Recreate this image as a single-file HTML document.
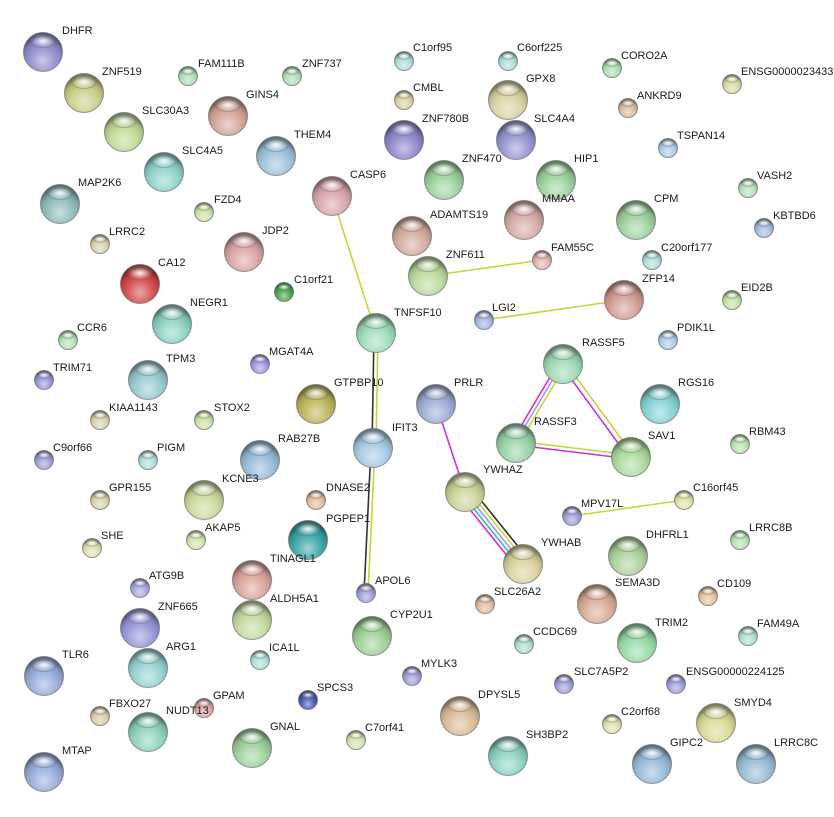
<!DOCTYPE html>
<html><head><meta charset="utf-8"><style>
html,body{margin:0;padding:0;background:#fff;}
svg{display:block;}
text{font-family:"Liberation Sans",sans-serif;font-size:11px;fill:#1a1a1a;}
</style></head><body>
<svg width="834" height="817" viewBox="0 0 834 817" xmlns="http://www.w3.org/2000/svg">
<defs>
<radialGradient id="sh" cx="50%" cy="72%" r="62%">
<stop offset="0" stop-color="#fff" stop-opacity="0.55"/>
<stop offset="0.55" stop-color="#fff" stop-opacity="0.1"/>
<stop offset="0.85" stop-color="#000" stop-opacity="0.12"/>
<stop offset="1" stop-color="#000" stop-opacity="0.4"/>
</radialGradient>
<radialGradient id="hl" cx="50%" cy="50%" r="50%">
<stop offset="0" stop-color="#fff" stop-opacity="0.95"/>
<stop offset="1" stop-color="#fff" stop-opacity="0"/>
</radialGradient>
<g id="o20"><circle r="19.5" fill="url(#sh)"/><ellipse cx="0" cy="-11" rx="12" ry="6.5" fill="url(#hl)"/></g>
<g id="o9"><circle r="9.5" fill="url(#sh)"/><ellipse cx="0" cy="-5" rx="6" ry="3.2" fill="url(#hl)"/></g>
</defs>
<!-- edges -->
<g fill="none" stroke-width="1.6">
<line x1="332" y1="196" x2="376" y2="333" stroke="#c8d43a"/>
<line x1="428" y1="276" x2="542" y2="260" stroke="#c8d43a"/>
<line x1="484" y1="320" x2="624" y2="300" stroke="#c8d43a"/>
<line x1="572" y1="516" x2="684" y2="500" stroke="#c8d43a"/>
<line x1="374" y1="333" x2="372" y2="448" stroke="#333"/>
<line x1="378" y1="333" x2="376" y2="448" stroke="#c8d43a"/>
<line x1="371" y1="448" x2="364" y2="593" stroke="#333"/>
<line x1="375" y1="448" x2="368" y2="593" stroke="#c8d43a"/>
<line x1="436" y1="404" x2="465" y2="492" stroke="#d62ed6"/>
<line x1="459" y1="496" x2="517" y2="568" stroke="#d62ed6"/>
<line x1="462" y1="494" x2="520" y2="566" stroke="#31b8d0"/>
<line x1="465" y1="492" x2="523" y2="564" stroke="#9a9af0"/>
<line x1="468" y1="490" x2="526" y2="562" stroke="#c8d43a"/>
<line x1="471" y1="488" x2="529" y2="560" stroke="#333"/>
<line x1="559" y1="362" x2="512" y2="441" stroke="#d62ed6"/>
<line x1="562" y1="364" x2="515" y2="443" stroke="#9a9af0"/>
<line x1="565" y1="366" x2="518" y2="445" stroke="#c8d43a"/>
<line x1="565" y1="362" x2="633" y2="455" stroke="#c8d43a"/>
<line x1="561" y1="365" x2="629" y2="458" stroke="#d62ed6"/>
<line x1="516" y1="441" x2="631" y2="455" stroke="#c8d43a"/>
<line x1="516" y1="445" x2="631" y2="459" stroke="#d62ed6"/>
</g>
<!-- nodes -->
<g stroke="#777" stroke-opacity="0.5" stroke-width="1">
<circle cx="43" cy="52" r="19.5" fill="#8c88cc"/><use href="#o20" x="43" y="52"/>
<circle cx="84" cy="93" r="19.5" fill="#c8cc80"/><use href="#o20" x="84" y="93"/>
<circle cx="188" cy="76" r="9.5" fill="#a8dcb0"/><use href="#o9" x="188" y="76"/>
<circle cx="292" cy="76" r="9.5" fill="#a8dcb0"/><use href="#o9" x="292" y="76"/>
<circle cx="404" cy="61" r="9.5" fill="#a8dcd8"/><use href="#o9" x="404" y="61"/>
<circle cx="508" cy="61" r="9.5" fill="#a8dcd8"/><use href="#o9" x="508" y="61"/>
<circle cx="612" cy="68" r="9.5" fill="#a8dcb0"/><use href="#o9" x="612" y="68"/>
<circle cx="732" cy="84" r="9.5" fill="#d8d8a0"/><use href="#o9" x="732" y="84"/>
<circle cx="404" cy="100" r="9.5" fill="#d8d0a0"/><use href="#o9" x="404" y="100"/>
<circle cx="508" cy="100" r="19.5" fill="#d8d09c"/><use href="#o20" x="508" y="100"/>
<circle cx="628" cy="108" r="9.5" fill="#d8b898"/><use href="#o9" x="628" y="108"/>
<circle cx="228" cy="116" r="19.5" fill="#d0a090"/><use href="#o20" x="228" y="116"/>
<circle cx="124" cy="132" r="19.5" fill="#bcd890"/><use href="#o20" x="124" y="132"/>
<circle cx="404" cy="140" r="19.5" fill="#8880c8"/><use href="#o20" x="404" y="140"/>
<circle cx="516" cy="140" r="19.5" fill="#9090d0"/><use href="#o20" x="516" y="140"/>
<circle cx="668" cy="148" r="9.5" fill="#a8c8e8"/><use href="#o9" x="668" y="148"/>
<circle cx="276" cy="156" r="19.5" fill="#98c0d8"/><use href="#o20" x="276" y="156"/>
<circle cx="164" cy="172" r="19.5" fill="#88d0c8"/><use href="#o20" x="164" y="172"/>
<circle cx="444" cy="180" r="19.5" fill="#98d098"/><use href="#o20" x="444" y="180"/>
<circle cx="556" cy="180" r="19.5" fill="#98d098"/><use href="#o20" x="556" y="180"/>
<circle cx="748" cy="188" r="9.5" fill="#b0e0b8"/><use href="#o9" x="748" y="188"/>
<circle cx="332" cy="196" r="19.5" fill="#d8a0a8"/><use href="#o20" x="332" y="196"/>
<circle cx="60" cy="204" r="19.5" fill="#88b8b8"/><use href="#o20" x="60" y="204"/>
<circle cx="204" cy="212" r="9.5" fill="#c8e0a0"/><use href="#o9" x="204" y="212"/>
<circle cx="524" cy="220" r="19.5" fill="#d0a8a0"/><use href="#o20" x="524" y="220"/>
<circle cx="636" cy="220" r="19.5" fill="#98d098"/><use href="#o20" x="636" y="220"/>
<circle cx="764" cy="228" r="9.5" fill="#a0b8e0"/><use href="#o9" x="764" y="228"/>
<circle cx="412" cy="236" r="19.5" fill="#d0a898"/><use href="#o20" x="412" y="236"/>
<circle cx="100" cy="244" r="9.5" fill="#d8d0a8"/><use href="#o9" x="100" y="244"/>
<circle cx="244" cy="252" r="19.5" fill="#d8a0a0"/><use href="#o20" x="244" y="252"/>
<circle cx="652" cy="260" r="9.5" fill="#a8dcd8"/><use href="#o9" x="652" y="260"/>
<circle cx="428" cy="276" r="19.5" fill="#b8d898"/><use href="#o20" x="428" y="276"/>
<circle cx="542" cy="260" r="9.5" fill="#e0b0a8"/><use href="#o9" x="542" y="260"/>
<circle cx="140" cy="284" r="19.5" fill="#d04040"/><use href="#o20" x="140" y="284"/>
<circle cx="284" cy="292" r="9.5" fill="#40a040"/><use href="#o9" x="284" y="292"/>
<circle cx="624" cy="300" r="19.5" fill="#d09890"/><use href="#o20" x="624" y="300"/>
<circle cx="732" cy="300" r="9.5" fill="#c0e0a0"/><use href="#o9" x="732" y="300"/>
<circle cx="172" cy="324" r="19.5" fill="#88d0c0"/><use href="#o20" x="172" y="324"/>
<circle cx="376" cy="333" r="19.5" fill="#98dcb8"/><use href="#o20" x="376" y="333"/>
<circle cx="484" cy="320" r="9.5" fill="#a0b0e0"/><use href="#o9" x="484" y="320"/>
<circle cx="668" cy="340" r="9.5" fill="#a8c8e8"/><use href="#o9" x="668" y="340"/>
<circle cx="68" cy="340" r="9.5" fill="#b0e0b0"/><use href="#o9" x="68" y="340"/>
<circle cx="563" cy="364" r="19.5" fill="#98d8b0"/><use href="#o20" x="563" y="364"/>
<circle cx="260" cy="364" r="9.5" fill="#a090e0"/><use href="#o9" x="260" y="364"/>
<circle cx="44" cy="380" r="9.5" fill="#9090d8"/><use href="#o9" x="44" y="380"/>
<circle cx="148" cy="380" r="19.5" fill="#90c8d0"/><use href="#o20" x="148" y="380"/>
<circle cx="316" cy="404" r="19.5" fill="#b8b050"/><use href="#o20" x="316" y="404"/>
<circle cx="436" cy="404" r="19.5" fill="#98a8d0"/><use href="#o20" x="436" y="404"/>
<circle cx="660" cy="404" r="19.5" fill="#80d0d0"/><use href="#o20" x="660" y="404"/>
<circle cx="100" cy="420" r="9.5" fill="#d8d0a8"/><use href="#o9" x="100" y="420"/>
<circle cx="204" cy="420" r="9.5" fill="#c8e0a0"/><use href="#o9" x="204" y="420"/>
<circle cx="516" cy="443" r="19.5" fill="#90d0a0"/><use href="#o20" x="516" y="443"/>
<circle cx="740" cy="444" r="9.5" fill="#b8e0a8"/><use href="#o9" x="740" y="444"/>
<circle cx="631" cy="457" r="19.5" fill="#a8d898"/><use href="#o20" x="631" y="457"/>
<circle cx="373" cy="448" r="19.5" fill="#a0c8e0"/><use href="#o20" x="373" y="448"/>
<circle cx="260" cy="460" r="19.5" fill="#90b8d8"/><use href="#o20" x="260" y="460"/>
<circle cx="148" cy="460" r="9.5" fill="#a8dcd8"/><use href="#o9" x="148" y="460"/>
<circle cx="44" cy="460" r="9.5" fill="#9898d8"/><use href="#o9" x="44" y="460"/>
<circle cx="465" cy="492" r="19.5" fill="#c8d090"/><use href="#o20" x="465" y="492"/>
<circle cx="204" cy="500" r="19.5" fill="#c8d898"/><use href="#o20" x="204" y="500"/>
<circle cx="100" cy="500" r="9.5" fill="#d8d0a8"/><use href="#o9" x="100" y="500"/>
<circle cx="316" cy="500" r="9.5" fill="#e0b898"/><use href="#o9" x="316" y="500"/>
<circle cx="684" cy="500" r="9.5" fill="#e0e0a0"/><use href="#o9" x="684" y="500"/>
<circle cx="572" cy="516" r="9.5" fill="#9898d8"/><use href="#o9" x="572" y="516"/>
<circle cx="308" cy="540" r="19.5" fill="#30a0a0"/><use href="#o20" x="308" y="540"/>
<circle cx="196" cy="540" r="9.5" fill="#d0e4a8"/><use href="#o9" x="196" y="540"/>
<circle cx="740" cy="540" r="9.5" fill="#b0e0b0"/><use href="#o9" x="740" y="540"/>
<circle cx="523" cy="564" r="19.5" fill="#d8d098"/><use href="#o20" x="523" y="564"/>
<circle cx="628" cy="556" r="19.5" fill="#a8d098"/><use href="#o20" x="628" y="556"/>
<circle cx="92" cy="548" r="9.5" fill="#dce0a8"/><use href="#o9" x="92" y="548"/>
<circle cx="366" cy="593" r="9.5" fill="#9898d8"/><use href="#o9" x="366" y="593"/>
<circle cx="485" cy="604" r="9.5" fill="#e0b898"/><use href="#o9" x="485" y="604"/>
<circle cx="597" cy="604" r="19.5" fill="#d8a890"/><use href="#o20" x="597" y="604"/>
<circle cx="708" cy="596" r="9.5" fill="#e0c098"/><use href="#o9" x="708" y="596"/>
<circle cx="140" cy="588" r="9.5" fill="#a0a0e0"/><use href="#o9" x="140" y="588"/>
<circle cx="252" cy="580" r="19.5" fill="#d8a098"/><use href="#o20" x="252" y="580"/>
<circle cx="252" cy="620" r="19.5" fill="#c0d898"/><use href="#o20" x="252" y="620"/>
<circle cx="140" cy="628" r="19.5" fill="#9090d8"/><use href="#o20" x="140" y="628"/>
<circle cx="372" cy="636" r="19.5" fill="#98d090"/><use href="#o20" x="372" y="636"/>
<circle cx="637" cy="643" r="19.5" fill="#90d8a0"/><use href="#o20" x="637" y="643"/>
<circle cx="524" cy="644" r="9.5" fill="#a8dcc8"/><use href="#o9" x="524" y="644"/>
<circle cx="748" cy="636" r="9.5" fill="#a8dcc8"/><use href="#o9" x="748" y="636"/>
<circle cx="260" cy="660" r="9.5" fill="#a8dcd8"/><use href="#o9" x="260" y="660"/>
<circle cx="148" cy="668" r="19.5" fill="#90d0d0"/><use href="#o20" x="148" y="668"/>
<circle cx="44" cy="676" r="19.5" fill="#90a8d8"/><use href="#o20" x="44" y="676"/>
<circle cx="412" cy="676" r="9.5" fill="#9898d8"/><use href="#o9" x="412" y="676"/>
<circle cx="564" cy="684" r="9.5" fill="#9898d8"/><use href="#o9" x="564" y="684"/>
<circle cx="676" cy="684" r="9.5" fill="#9898d8"/><use href="#o9" x="676" y="684"/>
<circle cx="204" cy="708" r="9.5" fill="#e0a0a0"/><use href="#o9" x="204" y="708"/>
<circle cx="308" cy="700" r="9.5" fill="#4050b0"/><use href="#o9" x="308" y="700"/>
<circle cx="100" cy="716" r="9.5" fill="#d8c8a0"/><use href="#o9" x="100" y="716"/>
<circle cx="612" cy="724" r="9.5" fill="#dce0a8"/><use href="#o9" x="612" y="724"/>
<circle cx="716" cy="723" r="19.5" fill="#d8d890"/><use href="#o20" x="716" y="723"/>
<circle cx="460" cy="716" r="19.5" fill="#d8b890"/><use href="#o20" x="460" y="716"/>
<circle cx="356" cy="740" r="9.5" fill="#d0e4a8"/><use href="#o9" x="356" y="740"/>
<circle cx="148" cy="732" r="19.5" fill="#88d0b8"/><use href="#o20" x="148" y="732"/>
<circle cx="252" cy="748" r="19.5" fill="#98d098"/><use href="#o20" x="252" y="748"/>
<circle cx="508" cy="756" r="19.5" fill="#88d0c0"/><use href="#o20" x="508" y="756"/>
<circle cx="652" cy="764" r="19.5" fill="#90b8d8"/><use href="#o20" x="652" y="764"/>
<circle cx="756" cy="764" r="19.5" fill="#90b8d0"/><use href="#o20" x="756" y="764"/>
<circle cx="44" cy="772" r="19.5" fill="#90a8d8"/><use href="#o20" x="44" y="772"/>
</g>
<!-- labels -->
<g>
<text x="62" y="34">DHFR</text>
<text x="102" y="75">ZNF519</text>
<text x="198" y="67">FAM111B</text>
<text x="302" y="67">ZNF737</text>
<text x="413" y="51">C1orf95</text>
<text x="517" y="51">C6orf225</text>
<text x="621" y="59">CORO2A</text>
<text x="741" y="75">ENSG0000023433</text>
<text x="413" y="91">CMBL</text>
<text x="526" y="82">GPX8</text>
<text x="637" y="99">ANKRD9</text>
<text x="246" y="98">GINS4</text>
<text x="142" y="114">SLC30A3</text>
<text x="422" y="122">ZNF780B</text>
<text x="534" y="122">SLC4A4</text>
<text x="677" y="139">TSPAN14</text>
<text x="294" y="138">THEM4</text>
<text x="182" y="154">SLC4A5</text>
<text x="462" y="162">ZNF470</text>
<text x="574" y="162">HIP1</text>
<text x="757" y="179">VASH2</text>
<text x="350" y="178">CASP6</text>
<text x="78" y="186">MAP2K6</text>
<text x="214" y="203">FZD4</text>
<text x="542" y="202">MMAA</text>
<text x="654" y="202">CPM</text>
<text x="773" y="219">KBTBD6</text>
<text x="430" y="218">ADAMTS19</text>
<text x="109" y="235">LRRC2</text>
<text x="262" y="234">JDP2</text>
<text x="661" y="251">C20orf177</text>
<text x="446" y="258">ZNF611</text>
<text x="551" y="251">FAM55C</text>
<text x="158" y="266">CA12</text>
<text x="294" y="283">C1orf21</text>
<text x="642" y="282">ZFP14</text>
<text x="741" y="291">EID2B</text>
<text x="190" y="306">NEGR1</text>
<text x="394" y="316">TNFSF10</text>
<text x="492" y="311">LGI2</text>
<text x="677" y="331">PDIK1L</text>
<text x="77" y="331">CCR6</text>
<text x="582" y="346">RASSF5</text>
<text x="269" y="355">MGAT4A</text>
<text x="53" y="371">TRIM71</text>
<text x="166" y="362">TPM3</text>
<text x="334" y="386">GTPBP10</text>
<text x="454" y="386">PRLR</text>
<text x="678" y="386">RGS16</text>
<text x="109" y="411">KIAA1143</text>
<text x="214" y="411">STOX2</text>
<text x="534" y="425">RASSF3</text>
<text x="749" y="435">RBM43</text>
<text x="648" y="439">SAV1</text>
<text x="392" y="431">IFIT3</text>
<text x="278" y="442">RAB27B</text>
<text x="157" y="451">PIGM</text>
<text x="53" y="451">C9orf66</text>
<text x="483" y="473">YWHAZ</text>
<text x="222" y="482">KCNE3</text>
<text x="109" y="491">GPR155</text>
<text x="326" y="491">DNASE2</text>
<text x="693" y="491">C16orf45</text>
<text x="581" y="507">MPV17L</text>
<text x="326" y="522">PGPEP1</text>
<text x="205" y="531">AKAP5</text>
<text x="749" y="531">LRRC8B</text>
<text x="541" y="546">YWHAB</text>
<text x="646" y="538">DHFRL1</text>
<text x="101" y="539">SHE</text>
<text x="375" y="584">APOL6</text>
<text x="494" y="595">SLC26A2</text>
<text x="615" y="586">SEMA3D</text>
<text x="717" y="587">CD109</text>
<text x="149" y="579">ATG9B</text>
<text x="270" y="562">TINAGL1</text>
<text x="270" y="602">ALDH5A1</text>
<text x="158" y="610">ZNF665</text>
<text x="390" y="618">CYP2U1</text>
<text x="655" y="626">TRIM2</text>
<text x="533" y="635">CCDC69</text>
<text x="757" y="627">FAM49A</text>
<text x="269" y="651">ICA1L</text>
<text x="166" y="650">ARG1</text>
<text x="62" y="658">TLR6</text>
<text x="421" y="667">MYLK3</text>
<text x="574" y="675">SLC7A5P2</text>
<text x="686" y="675">ENSG00000224125</text>
<text x="213" y="699">GPAM</text>
<text x="317" y="691">SPCS3</text>
<text x="109" y="707">FBXO27</text>
<text x="621" y="715">C2orf68</text>
<text x="734" y="706">SMYD4</text>
<text x="478" y="698">DPYSL5</text>
<text x="365" y="731">C7orf41</text>
<text x="166" y="714">NUDT13</text>
<text x="270" y="730">GNAL</text>
<text x="526" y="738">SH3BP2</text>
<text x="670" y="746">GIPC2</text>
<text x="774" y="746">LRRC8C</text>
<text x="62" y="754">MTAP</text>
</g>
</svg>
</body></html>
